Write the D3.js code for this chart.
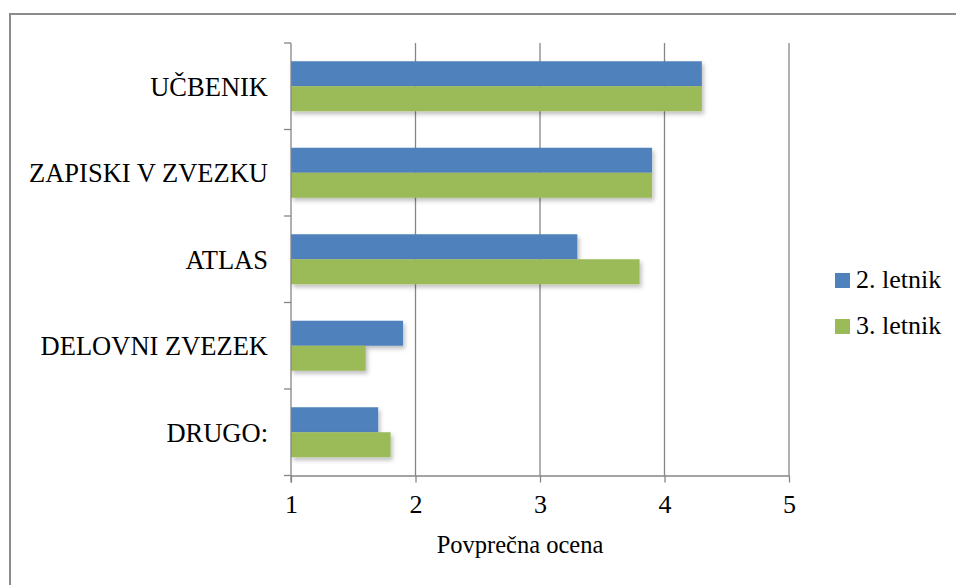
<!DOCTYPE html>
<html>
<head>
<meta charset="utf-8">
<script src="https://d3js.org/d3.v7.min.js"></script>
<style>
body { margin: 0; background: #fff; }
svg text { font-family: "Liberation Serif", "Times New Roman", "DejaVu Serif", serif; fill: #000; }
</style>
</head>
<body>
<svg></svg>
<script>
// data
var categories = ["UČBENIK", "ZAPISKI V ZVEZKU", "ATLAS", "DELOVNI ZVEZEK", "DRUGO:"];
var seriesNames = ["2. letnik", "3. letnik"];
var letnik2 = [4.3, 3.9, 3.3, 1.9, 1.7];
var letnik3 = [4.3, 3.9, 3.8, 1.6, 1.8];
var xTicks = [1, 2, 3, 4, 5];

var width = 956, height = 585;
var colors = ["#4F81BD", "#9BBB59"];
var gridColor = "#868686";
var serif = "'Liberation Serif', 'Times New Roman', serif";

var svg = d3.select("svg").attr("width", width).attr("height", height);

// drop shadow like the office chart
var defs = svg.append("defs");
defs.append("filter").attr("id", "shadow")
    .attr("x", "-5%").attr("y", "-20%").attr("width", "115%").attr("height", "160%")
    .append("feDropShadow")
    .attr("dx", 2).attr("dy", 3).attr("stdDeviation", 2)
    .attr("flood-color", "#000").attr("flood-opacity", 0.25);

// outer frame
svg.append("rect")
    .attr("x", 10).attr("y", 14)
    .attr("width", width).attr("height", height)
    .attr("fill", "none").attr("stroke", "#8c8c8c").attr("stroke-width", 2);

var plot = { left: 291, right: 789, top: 43, bottom: 475.5 };

var x = d3.scaleLinear().domain([1, 5]).range([plot.left, plot.right]);
var y = d3.scaleBand().domain(categories).range([plot.top, plot.bottom]);
var ySub = d3.scaleBand().domain(seriesNames).range([0, y.bandwidth()]).paddingOuter(0.73);

var rows = categories.map(function (c, i) {
    return { cat: c, values: [letnik2[i], letnik3[i]] };
});

// vertical gridlines
svg.append("g").selectAll("line")
    .data(xTicks.slice(1))
    .join("line")
    .attr("x1", function (d) { return x(d); }).attr("x2", function (d) { return x(d); })
    .attr("y1", plot.top).attr("y2", plot.bottom)
    .attr("stroke", gridColor).attr("stroke-width", 1.3);

// bars
var groups = svg.append("g").selectAll("g")
    .data(rows)
    .join("g")
    .attr("transform", function (d) { return "translate(0," + y(d.cat) + ")"; });

groups.selectAll("rect")
    .data(function (d) { return d.values.map(function (v, j) { return { s: seriesNames[j], v: v, j: j }; }); })
    .join("rect")
    .attr("x", x(1))
    .attr("y", function (d) { return ySub(d.s); })
    .attr("width", function (d) { return x(d.v) - x(1); })
    .attr("height", ySub.bandwidth())
    .attr("fill", function (d) { return colors[d.j]; })
    .attr("filter", "url(#shadow)");

// y axis with boundary ticks
var yAxis = svg.append("g");
yAxis.append("line")
    .attr("x1", plot.left).attr("x2", plot.left)
    .attr("y1", plot.top).attr("y2", plot.bottom + 7)
    .attr("stroke", gridColor).attr("stroke-width", 1.3);
var bounds = categories.map(function (c) { return y(c); }).concat([plot.bottom]);
yAxis.selectAll("line.tick")
    .data(bounds)
    .join("line").attr("class", "tick")
    .attr("x1", plot.left - 7).attr("x2", plot.left)
    .attr("y1", function (d) { return d; }).attr("y2", function (d) { return d; })
    .attr("stroke", gridColor).attr("stroke-width", 1.3);
yAxis.selectAll("text")
    .data(categories)
    .join("text")
    .attr("x", 268)
    .attr("y", function (d) { return y(d) + y.bandwidth() / 2; })
    .attr("dy", "0.35em")
    .attr("text-anchor", "end")
    .style("font-family", serif)
    .style("font-size", "26.5px")
    .text(function (d) { return d; });

// x axis
var xAxis = svg.append("g")
    .attr("transform", "translate(0," + plot.bottom + ")")
    .call(d3.axisBottom(x).tickValues(xTicks).tickFormat(d3.format("d")).tickSize(7).tickSizeOuter(0).tickPadding(12));
xAxis.attr("font-family", null);
xAxis.select(".domain").attr("stroke", gridColor).attr("stroke-width", 1.3);
xAxis.selectAll(".tick line").attr("stroke", gridColor).attr("stroke-width", 1.3);
xAxis.selectAll(".tick text")
    .style("font-size", "26px")
    .style("font-family", serif)
    .attr("fill", "#000");

svg.append("text")
    .attr("x", 520).attr("y", 553)
    .attr("text-anchor", "middle")
    .style("font-family", serif)
    .style("font-size", "24.5px")
    .text("Povprečna ocena");

// legend
var legend = svg.append("g").selectAll("g")
    .data(seriesNames)
    .join("g")
    .attr("transform", function (d, i) { return "translate(835," + (273 + i * 46) + ")"; });
legend.append("rect")
    .attr("width", 15).attr("height", 15)
    .attr("fill", function (d, i) { return colors[i]; });
legend.append("text")
    .attr("x", 21).attr("y", 15)
    .style("font-family", serif)
    .style("font-size", "26px")
    .text(function (d) { return d; });
</script>
</body>
</html>
